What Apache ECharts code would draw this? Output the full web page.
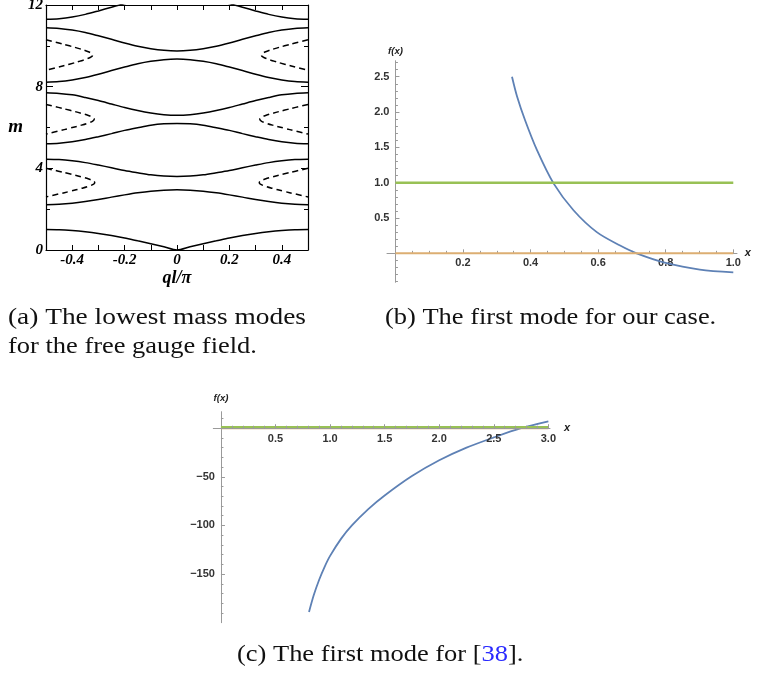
<!DOCTYPE html>
<html><head><meta charset="utf-8">
<script src="https://cdn.jsdelivr.net/npm/echarts@6/dist/echarts.min.js"></script>
<style>html,body{margin:0;padding:0;background:#fff}#c{width:758px;height:677px}</style>
</head><body><div id="c"></div>
<script>
// ---------- Panel (a): lowest mass modes ----------
const qGrid = [-0.5,-0.45,-0.4,-0.35,-0.3,-0.25,-0.2,-0.15,-0.1,-0.05,0,0.05,0.1,0.15,0.2,0.25,0.3,0.35,0.4,0.45,0.5];
const band0     = [1.00,0.99,0.95,0.89,0.81,0.71,0.59,0.45,0.31,0.16,0.00,0.16,0.31,0.45,0.59,0.71,0.81,0.89,0.95,0.99,1.00];
const band1Low  = [2.22,2.24,2.29,2.37,2.47,2.59,2.70,2.80,2.88,2.93,2.95,2.93,2.88,2.80,2.70,2.59,2.47,2.37,2.29,2.24,2.22];
const band1High = [4.45,4.43,4.37,4.28,4.16,4.03,3.89,3.78,3.68,3.62,3.60,3.62,3.68,3.78,3.89,4.03,4.16,4.28,4.37,4.43,4.45];
const band2Low  = [5.20,5.23,5.30,5.41,5.55,5.70,5.86,5.99,6.11,6.18,6.20,6.18,6.11,5.99,5.86,5.70,5.55,5.41,5.30,5.23,5.20];
const band2High = [7.70,7.67,7.60,7.47,7.32,7.15,6.98,6.83,6.71,6.63,6.60,6.63,6.71,6.83,6.98,7.15,7.32,7.47,7.60,7.67,7.70];
const band3Low  = [8.22,8.25,8.33,8.45,8.61,8.79,8.96,9.12,9.24,9.32,9.35,9.32,9.24,9.12,8.96,8.79,8.61,8.45,8.33,8.25,8.22];
const band3High = [10.88,10.85,10.77,10.65,10.49,10.32,10.14,9.98,9.86,9.78,9.75,9.78,9.86,9.98,10.14,10.32,10.49,10.65,10.77,10.85,10.88];
const band4Low  = [11.30,11.33,11.41,11.54,11.71,11.89,12.07,12.23,12.37,12.45,12.48,12.45,12.37,12.23,12.07,11.89,11.71,11.54,11.41,11.33,11.30];

// dashed branches (left-side q, right-side q, m)
const dash1QL = [-0.5,-0.4526,-0.4067,-0.364,-0.3366,-0.3198,-0.314,-0.3198,-0.3366,-0.364,-0.4067,-0.4526,-0.5];
const dash1QR = [0.5,0.4526,0.4067,0.364,0.3366,0.3198,0.314,0.3198,0.3366,0.364,0.4067,0.4526,0.5];
const dash1M  = [4.00,3.86,3.72,3.58,3.475,3.384,3.30,3.216,3.125,3.02,2.88,2.74,2.60];
const dash2QL = [-0.5,-0.453,-0.408,-0.365,-0.338,-0.3217,-0.316,-0.3217,-0.338,-0.365,-0.408,-0.453,-0.5];
const dash2QR = [0.5,0.453,0.408,0.365,0.338,0.3217,0.316,0.3217,0.338,0.365,0.408,0.453,0.5];
const dash2M  = [7.13,6.985,6.84,6.695,6.586,6.492,6.405,6.318,6.224,6.115,5.97,5.825,5.68];
const dash3QL = [-0.5,-0.4547,-0.4107,-0.3699,-0.3437,-0.3275,-0.322,-0.3275,-0.3437,-0.3699,-0.4107,-0.4547,-0.5];
const dash3QR = [0.5,0.4547,0.4107,0.3699,0.3437,0.3275,0.322,0.3275,0.3437,0.3699,0.4107,0.4547,0.5];
const dash3M  = [10.30,10.15,10.00,9.85,9.7375,9.64,9.55,9.46,9.3625,9.25,9.10,8.95,8.80];

// ---------- Panel (b): first mode for our case ----------
const bX = [0.345,0.36,0.384,0.419,0.468,0.527,0.596,0.665,0.714,0.803,0.901,1.0];
const bY = [2.50,2.22,1.88,1.46,0.99,0.61,0.30,0.11,0.00,-0.14,-0.23,-0.27];
const bLineX = [0, 1.0];
const bXMajor = [0.2,0.4,0.6,0.8,1.0];
const bXMinor = [0.05,0.1,0.15,0.25,0.3,0.35,0.45,0.5,0.55,0.65,0.7,0.75,0.85,0.9,0.95];
const bYMajor = [0.5,1.0,1.5,2.0,2.5];
const bYMinor = [-0.4,-0.3,-0.2,-0.1,0.1,0.2,0.3,0.4,0.6,0.7,0.8,0.9,1.1,1.2,1.3,1.4,1.6,1.7,1.8,1.9,2.1,2.2,2.3,2.4,2.6,2.7];

// ---------- Panel (c): first mode for [38] ----------
const cX = [0.807,0.85,0.9,0.95,1.0,1.1,1.2,1.35,1.5,1.75,2.0,2.25,2.5,2.75,3.0];
const cY = [-189,-171.8,-155.8,-142.5,-131.3,-113.8,-100,-83.2,-69.2,-49.2,-33,-20,-9.5,0,7];
const cLineX = [0, 3.0];
const cXMajor = [0.5,1.0,1.5,2.0,2.5,3.0];
const cXMinor = [0.1,0.2,0.3,0.4,0.6,0.7,0.8,0.9,1.1,1.2,1.3,1.4,1.6,1.7,1.8,1.9,2.1,2.2,2.3,2.4,2.6,2.7,2.8,2.9];
const cYMajor = [-150,-100,-50];
const cYMinor = [-190,-180,-170,-160,-140,-130,-120,-110,-90,-80,-70,-60,-40,-30,-20,-10,10];

const zip = (xs, ys) => xs.map((x, i) => [x, ys[i]]);

const BLACK = '#000';
const AXG = '#9a9a9a';
const serifBI = {fontFamily: 'Liberation Serif', fontWeight: 'bold', fontStyle: 'italic', color: '#000'};
const sansLbl = {fontFamily: 'Liberation Sans', fontWeight: 'bold', fontSize: 11, color: '#333'};

const G = [
  {left: 46, top: 5, width: 262, height: 245},
  {left: 387, top: 60.7, width: 350, height: 221.6},
  {left: 213.3, top: 411.7, width: 336.7, height: 211}
];
const RB = {x: [-0.025, 1.011], y: [-0.41, 2.727]};
const RC = {x: [-0.07, 3.015], y: [-200, 17]};

function fmtA(v) {
  const k = Math.round(v * 10);
  return (k % 2 === 0 && Math.abs(k) < 5) ? String(k / 10) : '';
}

function aFrameX(pos, showLabel) {
  return {
    gridIndex: 0, type: 'value', position: pos, min: -0.5, max: 0.5, interval: 0.1,
    axisLine: {onZero: false, lineStyle: {color: BLACK, width: 1.2}},
    axisTick: {inside: true, length: 5, lineStyle: {color: BLACK, width: 1}},
    axisLabel: showLabel ? Object.assign({margin: 3, fontSize: 15, formatter: fmtA}, serifBI) : {show: false},
    splitLine: {show: false},
    name: showLabel ? 'ql/π' : '', nameLocation: 'middle', nameGap: 13,
    nameTextStyle: Object.assign({fontSize: 18}, serifBI)
  };
}
function aFrameY(pos, showLabel) {
  return {
    gridIndex: 0, type: 'value', position: pos, min: 0, max: 12, interval: 4,
    axisLine: {onZero: false, lineStyle: {color: BLACK, width: 1.2}},
    axisTick: {inside: true, length: 7, lineStyle: {color: BLACK, width: 1}},
    minorTick: {show: true, splitNumber: 2, length: 4, lineStyle: {color: BLACK, width: 1}},
    axisLabel: showLabel ? Object.assign({margin: 3, fontSize: 15}, serifBI) : {show: false},
    splitLine: {show: false}, minorSplitLine: {show: false},
    name: showLabel ? 'm' : '', nameLocation: 'middle', nameGap: 21, nameRotate: 0,
    nameTextStyle: Object.assign({fontSize: 19}, serifBI)
  };
}
// labels of an on-zero axis stay at the grid edge in ECharts; shift them back next to the zero line
function zeroShift(range, size) { return (0 - range[0]) / (range[1] - range[0]) * size; }

function mathAxis(grid, dim, rng, otherRng, major, minorVals, fmt, gapToLine, name, nameGap, onZeroIdx, zTop) {
  const g = G[grid];
  const shift = dim === 'x' ? zeroShift(otherRng, g.height) : zeroShift(otherRng, g.width);
  const major_ = {
    gridIndex: grid, type: 'value', min: rng[0], max: rng[1], z: zTop,
    position: dim === 'x' ? 'bottom' : 'left',
    axisLine: {onZero: true, lineStyle: {color: AXG, width: 1}},
    axisTick: {inside: true, length: 4, customValues: major, lineStyle: {color: AXG, width: 1}},
    axisLabel: Object.assign({customValues: major, formatter: fmt, margin: gapToLine - shift}, sansLbl),
    splitLine: {show: false},
    name: name, nameLocation: 'end', nameGap: nameGap,
    nameTextStyle: {fontFamily: 'Liberation Sans', fontStyle: 'italic', fontWeight: 'bold', fontSize: dim === 'x' ? 11 : 9.5, color: '#222'}
  };
  const minor_ = {
    gridIndex: grid, type: 'value', min: rng[0], max: rng[1], z: zTop,
    position: dim === 'x' ? 'bottom' : 'left',
    axisLine: {show: false, onZero: true, onZeroAxisIndex: onZeroIdx},
    axisTick: {inside: true, length: 2.5, customValues: minorVals, lineStyle: {color: AXG, width: 1}},
    axisLabel: {show: false},
    splitLine: {show: false}
  };
  return [major_, minor_];
}

const fmt1 = v => Number(v).toFixed(1);
const fmtNeg = v => (v < 0 ? '\u2212' : '') + Math.abs(v);

const xAxes = [aFrameX('bottom', true), aFrameX('top', false)]
  .concat(mathAxis(1, 'x', RB.x, RB.y, bXMajor, bXMinor, fmt1, 4.5, 'x', 4, 2, 0))
  .concat(mathAxis(2, 'x', RC.x, RC.y, cXMajor, cXMinor, fmt1, 5.5, 'x', 14, 4, 5));
const yAxes = [aFrameY('left', true), aFrameY('right', false)]
  .concat(mathAxis(1, 'y', RB.y, RB.x, bYMajor, bYMinor, fmt1, 6, 'f(x)', 4, 2, 0))
  .concat(mathAxis(2, 'y', RC.y, RC.x, cYMajor, cYMinor, fmtNeg, 6, 'f(x)', 8, 4, 0));

function lineS(data, xi, yi, color, width, type, smooth) {
  return {
    type: 'line', data: data, xAxisIndex: xi, yAxisIndex: yi,
    showSymbol: false, symbol: 'none', smooth: smooth, silent: true, animation: false,
    lineStyle: {color: color, width: width, type: type || 'solid'}
  };
}

const series = [];
[band0, band1Low, band1High, band2Low, band2High, band3Low, band3High, band4Low].forEach(b => {
  series.push(lineS(zip(qGrid, b), 0, 0, BLACK, 1.5, 'solid', 0.3));
});
[[dash1QL, dash1M], [dash1QR, dash1M], [dash2QL, dash2M], [dash2QR, dash2M], [dash3QL, dash3M], [dash3QR, dash3M]].forEach(p => {
  series.push(lineS(zip(p[0], p[1]), 0, 0, BLACK, 1.5, [6, 4], 0.4));
});
const BLUE = '#5e81b5', ORANGE = '#dcae72', GREEN = '#98c155';
series.push(lineS(zip(bX, bY), 2, 2, BLUE, 1.8, 'solid', 0.3));
series.push(lineS(zip(bLineX, [0, 0]), 2, 2, ORANGE, 2, 'solid', false));
series.push(lineS(zip(bLineX, [1, 1]), 2, 2, GREEN, 2.5, 'solid', false));
series.push(lineS(zip(cX, cY), 4, 4, BLUE, 1.8, 'solid', 0.3));
series.push(lineS(zip(cLineX, [0, 0]), 4, 4, ORANGE, 2, 'solid', false));
series.push(lineS(zip(cLineX, [1, 1]), 4, 4, GREEN, 2.5, 'solid', false));

const capFont = '23px "Liberation Serif"';
function cap(x, y, text, sx, extra) {
  return {type: 'text', x: x, y: y, scaleX: sx, silent: true,
    style: Object.assign({text: text, font: capFont, fill: '#111', verticalAlign: 'middle'}, extra || {})};
}
const option = {
  animation: false,
  backgroundColor: '#fff',
  grid: G.map(g => Object.assign({outerBoundsMode: 'none', containLabel: false}, g)),
  xAxis: xAxes,
  yAxis: yAxes,
  series: series,
  graphic: [
    cap(8, 318, '(a) The lowest mass modes', 1.19),
    cap(8, 347, 'for the free gauge field.', 1.15),
    cap(385, 318, '(b) The first mode for our case.', 1.15),
    cap(237, 655, '(c) The first mode for [{b|38}].', 1.15, {rich: {b: {fill: '#2a2aff', font: capFont}}})
  ]
};
const chart = echarts.init(document.getElementById('c'), null, {renderer: 'canvas'});
chart.setOption(option);
</script></body></html>
